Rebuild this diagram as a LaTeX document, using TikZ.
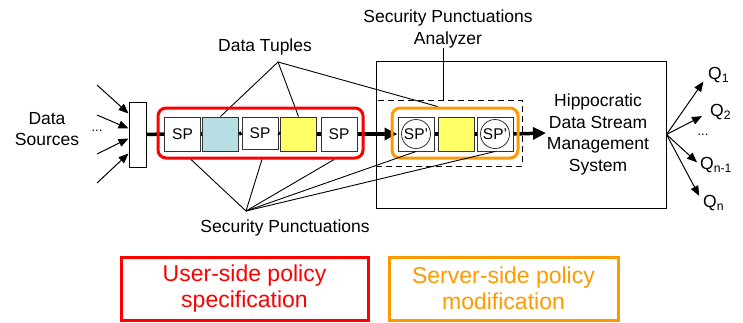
\documentclass[tikz,border=0pt]{standalone}
\usepackage{fontspec}
\setmainfont{Liberation Sans}
\usetikzlibrary{arrows.meta,calc}
\definecolor{spred}{RGB}{255,0,0}
\definecolor{sporange}{RGB}{255,153,0}
\definecolor{tupleblue}{RGB}{183,222,226}
\definecolor{tupleyellow}{RGB}{255,255,102}
\tikzset{
  lbl/.style={font=\fontsize{17.5}{21.7}\selectfont, align=center, inner sep=0pt},
  tuple/.style={draw=black!80, line width=1pt, minimum width=36pt, minimum height=34pt,
    inner sep=0pt, font=\fontsize{15.5}{18}\selectfont},
  spbox/.style={tuple, fill=white},
  sppbox/.style={tuple, fill=white, path picture={
    \draw[line width=0.8pt] (path picture bounding box.center) circle[radius=14.5pt];}},
  stream/.style={line width=3.5pt},
  streamarrow/.style={stream, -{Triangle[length=13pt,width=12pt]}},
  thinarrow/.style={line width=1pt, -{Triangle[length=10pt,width=8pt]}},
  pointer/.style={line width=0.9pt},
  legend/.style={line width=3pt, minimum height=63pt, align=center,
    font=\fontsize{23}{26}\selectfont},
}
\begin{document}
\begin{tikzpicture}[x=1pt,y=-1pt]
  \useasboundingbox (0,0) rectangle (743,322);
  % sources and merge
  \node[lbl] (sources) at (47,129) {Data\\Sources};
  \node[font=\fontsize{13}{13}\selectfont, inner sep=0pt] (srcdots) at (97,131) {...};
  \node[draw, line width=1pt, fill=white, minimum width=17pt, minimum height=65pt, inner sep=0pt] (merge) at (137.5,134.5) {};
  \coordinate (src1) at (97,85);
  \coordinate (src2) at (97,115);
  \coordinate (src3) at (97,154);
  \coordinate (src4) at (97,183);
  \draw[thinarrow] (src1) -- ($(merge.west)+(0,-21)$);
  \draw[thinarrow] (src2) -- ($(merge.west)+(0,-6)$);
  \draw[thinarrow] (src3) -- ($(merge.west)+(0,4)$);
  \draw[thinarrow] (src4) -- ($(merge.west)+(0,19)$);

  % tuples on the user side
  \node[spbox] (sp1) at (182.5,134) {SP};
  \node[tuple, fill=tupleblue] (dt1) at (220.5,134) {};
  \node[spbox, minimum height=32pt] (sp2) at (260,133) {SP};
  \node[tuple, fill=tupleyellow] (dt2) at (298.5,134) {};
  \node[spbox] (sp3) at (339,134) {SP};

  % DSMS and analyzer
  \node[draw, line width=1pt, minimum width=290pt, minimum height=147pt] (dsms) at (521,134.5) {};
  \node[draw, dashed, dash pattern=on 6pt off 4pt, line width=1pt, minimum width=146pt, minimum height=66pt] (spabox) at (449,133) {};
  \node[lbl] (hdsms) at (598,134.5) {Hippocratic\\Data Stream\\Management\\System};
  \node[sppbox] (sq1) at (416,134) {SP'};
  \node[tuple, fill=tupleyellow] (dq) at (456,134) {};
  \node[sppbox] (sq3) at (495,134) {SP'};
  \node[lbl] (spa) at (448,29) {Security Punctuations\\Analyzer};
  \draw[pointer] ([xshift=-5pt]spa.south) -- ([xshift=-6pt]spabox.north);

  % the stream
  \draw[stream] (merge.east) -- (sp1.west);
  \draw[stream] (sp1.east) -- (dt1.west);
  \draw[stream] (dt1.east) -- (sp2.west);
  \draw[stream] (sp2.east) -- (dt2.west);
  \draw[stream] (dt2.east) -- (sp3.west);
  \draw[streamarrow] (sp3.east) -- (sq1.west);
  \draw[stream] (sq1.east) -- (dq.west);
  \draw[stream] (dq.east) -- (sq3.west);
  \coordinate (streamout) at (546,133);
  \draw[streamarrow] (sq3.east) -- (streamout);

  % data tuples
  \node[lbl] (tuples) at (265,47) {Data Tuples};
  \coordinate (dtapex) at (278,62);
  \draw[pointer] (dtapex) -- (dt1.north);
  \draw[pointer] (dtapex) -- (dt2.north);

  % policy frames
  \node[draw=spred, line width=3pt, rounded corners=8pt, minimum width=205pt, minimum height=50pt] (userbox) at (260.5,133) {};
  \node[draw=sporange, line width=3pt, rounded corners=8pt, minimum width=126pt, minimum height=50pt] (serverbox) at (455,133) {};
  \draw[pointer] (dtapex) -- ($(serverbox.north west)!0.365!(serverbox.north east)$);

  % security punctuations
  \node[lbl] (puncts) at (285,228) {Security Punctuations};
  \coordinate (spapex) at (246,211);
  \draw[pointer] (spapex) -- ($(userbox.south west)!0.166!(userbox.south east)$);
  \draw[pointer] (spapex) -- ($(userbox.south west)!0.507!(userbox.south east)$);
  \draw[pointer] (spapex) -- ($(userbox.south west)!0.854!(userbox.south east)$);
  \draw[pointer] (spapex) -- (sq1.south);
  \draw[pointer] (spapex) -- (sq3.south);

  % queries
  \node[lbl, anchor=west] (q1) at (708,75) {Q\textsubscript{1}};
  \node[lbl, anchor=west] (q2) at (710,112) {Q\textsubscript{2}};
  \node[font=\fontsize{13}{13}\selectfont, inner sep=0pt] (qdots) at (703,135) {...};
  \node[lbl, anchor=west] (qm) at (700,165) {Q\textsubscript{n-1}};
  \node[lbl, anchor=west] (qn) at (703,203) {Q\textsubscript{n}};
  \draw[thinarrow, shorten >=8pt] (dsms.east) -- (q1.west);
  \draw[thinarrow, shorten >=9pt] (dsms.east) -- (q2.west);
  \draw[thinarrow, shorten >=4pt] (dsms.east) -- (qm.west);
  \draw[thinarrow, shorten >=8pt] (dsms.east) -- (qn.west);

  % legend
  \node[legend, draw=spred, text=spred, minimum width=247pt] (userlegend) at (244.5,289) {User-side policy\\specification};
  \node[legend, draw=sporange, text=sporange, minimum width=229pt] (serverlegend) at (503.5,288.5) {Server-side policy\\modification};
\end{tikzpicture}
\end{document}
